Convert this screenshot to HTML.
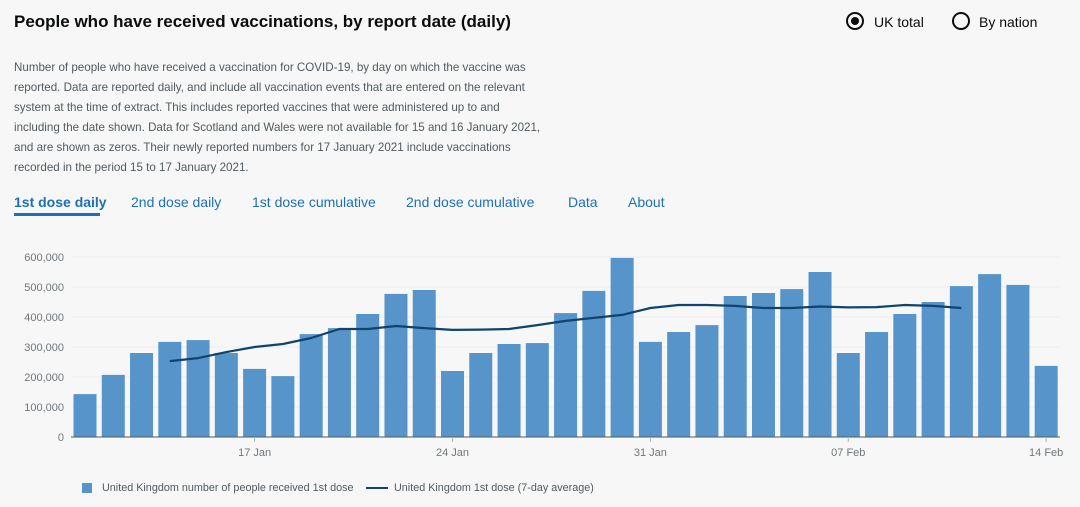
<!DOCTYPE html>
<html><head><meta charset="utf-8"><style>
body{margin:0;width:1080px;height:507px;background:#f7f7f7;font-family:"Liberation Sans",sans-serif;overflow:hidden;position:relative}
.t{position:absolute;white-space:nowrap}
h1{position:absolute;left:14px;top:12px;margin:0;font-size:17px;font-weight:bold;color:#0b0c0c}
.desc{position:absolute;left:14px;top:58px;width:530px;font-size:11.6px;line-height:20px;color:#505a5f}
.tab{position:absolute;top:194px;font-size:14px;color:#1d70b8}
.radio{position:absolute;top:12px;width:18px;height:18px;border:2px solid #0b0c0c;border-radius:50%;box-sizing:border-box}
</style></head><body>
<h1>People who have received vaccinations, by report date (daily)</h1>
<div class="radio" style="left:846px"><div style="width:8px;height:8px;background:#0b0c0c;border-radius:50%;margin:3px"></div></div>
<div class="t" style="left:874px;top:14px;font-size:14px;color:#0b0c0c">UK total</div>
<div class="radio" style="left:952px"></div>
<div class="t" style="left:979px;top:14px;font-size:14px;color:#0b0c0c">By nation</div>
<div class="desc">Number of people who have received a vaccination for COVID-19, by day on which the vaccine was reported. Data are reported daily, and include all vaccination events that are entered on the relevant system at the time of extract. This includes reported vaccines that were administered up to and including the date shown. Data for Scotland and Wales were not available for 15 and 16 January 2021, and are shown as zeros. Their newly reported numbers for 17 January 2021 include vaccinations recorded in the period 15 to 17 January 2021.</div>
<div class="tab" style="left:14px;font-weight:bold;color:#1d70b8">1st dose daily</div>
<div style="position:absolute;left:14px;top:213px;width:86px;height:3px;background:#1d70b8"></div>
<div class="tab" style="left:131px">2nd dose daily</div>
<div class="tab" style="left:252px">1st dose cumulative</div>
<div class="tab" style="left:406px">2nd dose cumulative</div>
<div class="tab" style="left:568px">Data</div>
<div class="tab" style="left:628px">About</div>
<svg id="c" width="1080" height="507" style="position:absolute;left:0;top:0"></svg>
<div style="position:absolute;left:82px;top:483px;width:10px;height:10px;background:#5694ca"></div>
<div class="t" style="left:102px;top:482px;font-size:10.8px;color:#505a5f">United Kingdom number of people received 1st dose</div>
<div style="position:absolute;left:366px;top:487px;width:22px;height:2px;background:#12436d"></div>
<div class="t" style="left:394px;top:482px;font-size:10.8px;color:#505a5f">United Kingdom 1st dose (7-day average)</div>
<script>
const days=["11 Jan","12 Jan","13 Jan","14 Jan","15 Jan","16 Jan","17 Jan","18 Jan","19 Jan","20 Jan","21 Jan","22 Jan","23 Jan","24 Jan","25 Jan","26 Jan","27 Jan","28 Jan","29 Jan","30 Jan","31 Jan","01 Feb","02 Feb","03 Feb","04 Feb","05 Feb","06 Feb","07 Feb","08 Feb","09 Feb","10 Feb","11 Feb","12 Feb","13 Feb","14 Feb"];
const daily=[143,207,280,317,323,280,227,203,343,363,410,477,490,220,280,310,313,413,487,597,317,350,373,470,480,493,550,280,350,410,450,503,543,507,237];
const avg=[null,null,null,253,263,283,300,310,330,360,360,370,363,357,358,360,373,387,397,407,430,440,440,437,430,430,435,432,433,440,437,430,null,null,null];
const yTicks=[0,100000,200000,300000,400000,500000,600000];
const yLabels=["0","100,000","200,000","300,000","400,000","500,000","600,000"];
const xTickDays=["17 Jan","24 Jan","31 Jan","07 Feb","14 Feb"];
const svg=document.getElementById('c');const NS='http://www.w3.org/2000/svg';
const x=i=>85+i*28.27, y=v=>437-v*0.0003;
function mk(t,a){const e=document.createElementNS(NS,t);for(const k in a)e.setAttribute(k,a[k]);svg.appendChild(e);return e;}
yTicks.forEach((v,i)=>{
 const g=mk('line',{x1:71,x2:1060,y1:y(v),y2:y(v),stroke:'#ececec'});
 
 
 const t=mk('text',{x:64,y:y(v)+4,'text-anchor':'end','font-size':11,fill:'#6f777b','font-family':'Liberation Sans'});t.textContent=yLabels[i];
 
 
});
daily.forEach((v,i)=>{
 const r=mk('rect',{x:x(i)-11.5,y:y(v*1000),width:23,height:437-y(v*1000),fill:'#5694ca'});
 
 
});
const ax=mk('line',{x1:71,x2:1060,y1:437,y2:437,stroke:'#505a5f'});


xTickDays.forEach(d=>{const i=days.indexOf(d);
 mk('line',{x1:x(i),x2:x(i),y1:437,y2:442,stroke:'#b1b4b6'});
 const t=mk('text',{x:x(i),y:456,'text-anchor':'middle','font-size':11,fill:'#6f777b','font-family':'Liberation Sans'});t.textContent=d;
 
 
});
let p='';avg.forEach((v,i)=>{if(v!=null)p+=(p?'L':'M')+x(i)+','+y(v*1000);});
const l=mk('path',{d:p,fill:'none',stroke:'#12436d','stroke-width':2.2,'stroke-linejoin':'round'});


</script>
</body></html>
